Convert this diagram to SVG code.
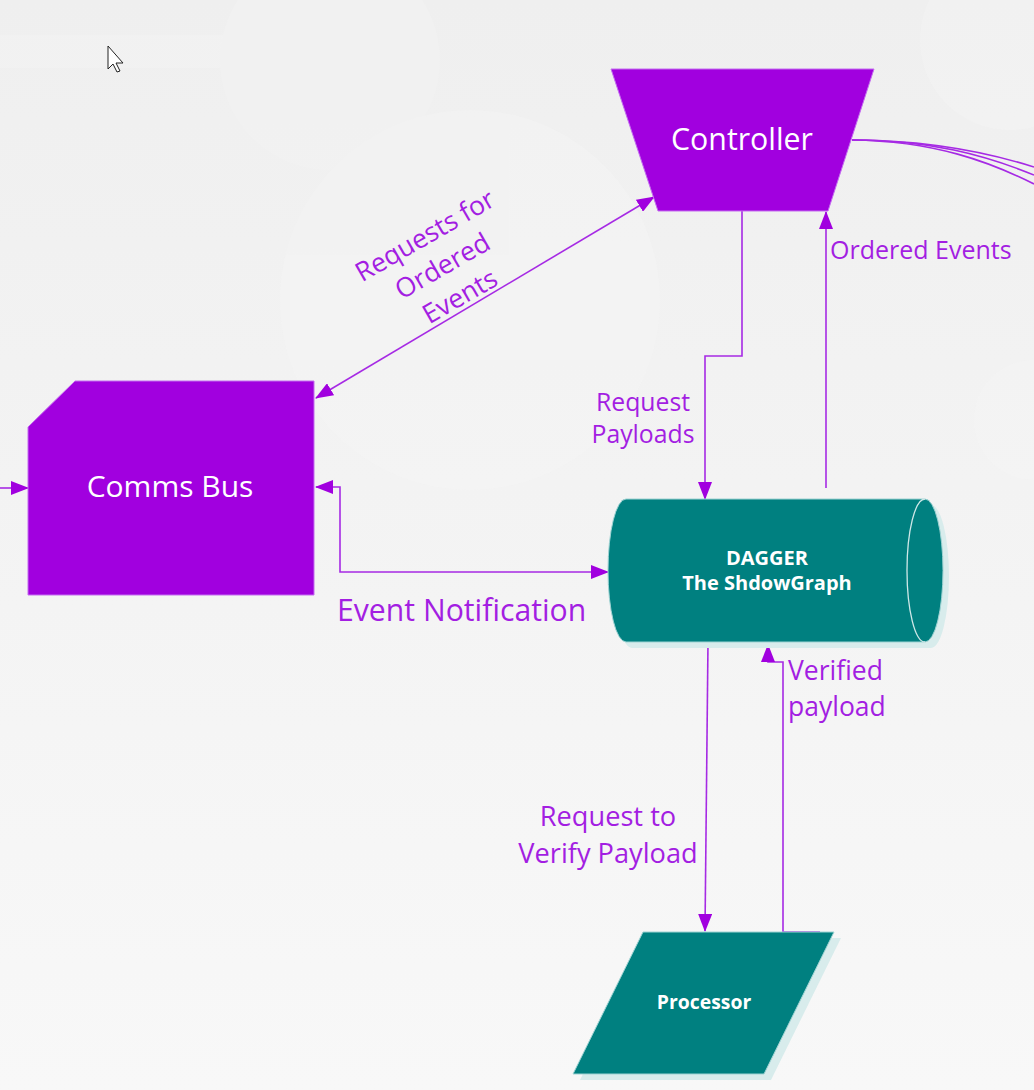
<svg xmlns="http://www.w3.org/2000/svg" width="1034" height="1090" viewBox="0 0 1034 1090">
<defs>
<linearGradient id="bg" x1="0" y1="0" x2="0" y2="1">
<stop offset="0" stop-color="#efefef"/>
<stop offset="1" stop-color="#f8f8f8"/>
</linearGradient>
<marker id="arr" markerUnits="userSpaceOnUse" markerWidth="18" markerHeight="14" refX="17" refY="7" orient="auto-start-reverse" viewBox="0 0 18 14">
<path d="M0,0 L18,7 L0,14 Z" fill="#a100df"/>
</marker>
<style>
.pur{fill:#a100df;stroke:#c46cf0;stroke-width:1}
.teal{fill:#008080;stroke:#9fd3d3;stroke-width:1}
.shadow{fill:#d8ecec}
.conn{fill:none;stroke:#a62ae4;stroke-width:1.6}
.nt{font-family:"Open Sans","Noto Sans",sans-serif;fill:#ffffff;text-anchor:middle}
.bt{font-family:"Open Sans","Noto Sans",sans-serif;fill:#ffffff;font-weight:bold;text-anchor:middle}
.lbl{font-family:"Open Sans","Noto Sans",sans-serif;fill:#a31ee2}
</style>
</defs>
<rect x="0" y="0" width="1034" height="1090" fill="url(#bg)"/>
<g opacity="0.35">
<rect x="0" y="35" width="248" height="33" fill="#f6f6f6"/>
<circle cx="330" cy="60" r="110" fill="#f5f5f5"/>
<circle cx="1010" cy="40" r="90" fill="#f5f5f5"/>
<circle cx="470" cy="300" r="190" fill="#f6f6f6"/>
<circle cx="1034" cy="420" r="60" fill="#f7f7f7"/>
</g>
<path d="M108,46 L108,69 L113,64 L117,72 L120,71 L116,63 L123,63 Z" fill="#ffffff" stroke="#222222" stroke-width="1"/>

<g id="connectors">
<path class="conn" d="M0,488 L28,488" marker-end="url(#arr)"/>
<path class="conn" d="M316,398 L654,197" marker-start="url(#arr)" marker-end="url(#arr)"/>
<path class="conn" d="M742,211 L742,356 L705,356 L705,499" marker-end="url(#arr)"/>
<path class="conn" d="M826,488 L826,212" marker-end="url(#arr)"/>
<path class="conn" d="M316,487 L340,487 L340,572 L608,572" marker-start="url(#arr)" marker-end="url(#arr)"/>
<path class="conn" d="M708,642 L705,931" marker-end="url(#arr)"/>
<path class="conn" d="M820,932 L783,932 L783,662 L768,662 L768,645" marker-end="url(#arr)"/>
<path class="conn" d="M852,140 C920,140 980,150 1034,167"/>
<path class="conn" d="M852,140 C930,140 985,155 1034,175"/>
<path class="conn" d="M852,140 C935,141 990,162 1034,184"/>
</g>

<g id="labels">
<g transform="translate(443,267) rotate(-30)">
<text class="lbl" font-size="26.5" text-anchor="middle" x="0" y="-27">Requests for</text>
<text class="lbl" font-size="26.5" text-anchor="middle" x="0" y="8">Ordered</text>
<text class="lbl" font-size="26.5" text-anchor="middle" x="0" y="43">Events</text>
</g>
<text class="lbl" font-size="25" x="830" y="259">Ordered Events</text>
<text class="lbl" font-size="24.8" text-anchor="middle" x="643" y="411">Request</text>
<text class="lbl" font-size="24.8" text-anchor="middle" x="643" y="443">Payloads</text>
<text class="lbl" font-size="30.2" x="337" y="621">Event Notification</text>
<text class="lbl" font-size="27.2" text-anchor="middle" x="608" y="826">Request to</text>
<text class="lbl" font-size="27.2" text-anchor="middle" x="608" y="863">Verify Payload</text>
<text class="lbl" font-size="26.5" x="788" y="680">Verified</text>
<text class="lbl" font-size="26.5" x="788" y="716">payload</text>
</g>

<g id="controller">
<polygon class="pur" points="611,69 874,69 828,211 658,211"/>
<text class="nt" font-size="30.3" x="742" y="150">Controller</text>
</g>

<g id="comms-bus">
<polygon class="pur" points="75,381 314,381 314,595 28,595 28,427"/>
<text class="nt" font-size="30" x="170" y="497">Comms Bus</text>
</g>

<g id="dagger">
<path class="shadow" d="M632,505 L931,505 A18,71.5 0 0 1 931,648 L632,648 A18,71.5 0 0 1 632,505 Z"/>
<path class="teal" d="M626,499 L925,499 A18,71.5 0 0 1 925,642 L626,642 A18,71.5 0 0 1 626,499 Z"/>
<path d="M925,499 A18,71.5 0 0 0 925,642" fill="none" stroke="#cfe8e8" stroke-width="1.3"/>
<text class="bt" font-size="20" x="767" y="565">DAGGER</text>
<text class="bt" font-size="20" x="767" y="590">The ShdowGraph</text>
</g>

<g id="processor">
<polygon class="shadow" points="650,938 841,938 771,1080 580,1080"/>
<polygon class="teal" points="643,932 834,932 764,1074 573,1074"/>
<text class="bt" font-size="19.4" x="704" y="1009">Processor</text>
</g>
</svg>
